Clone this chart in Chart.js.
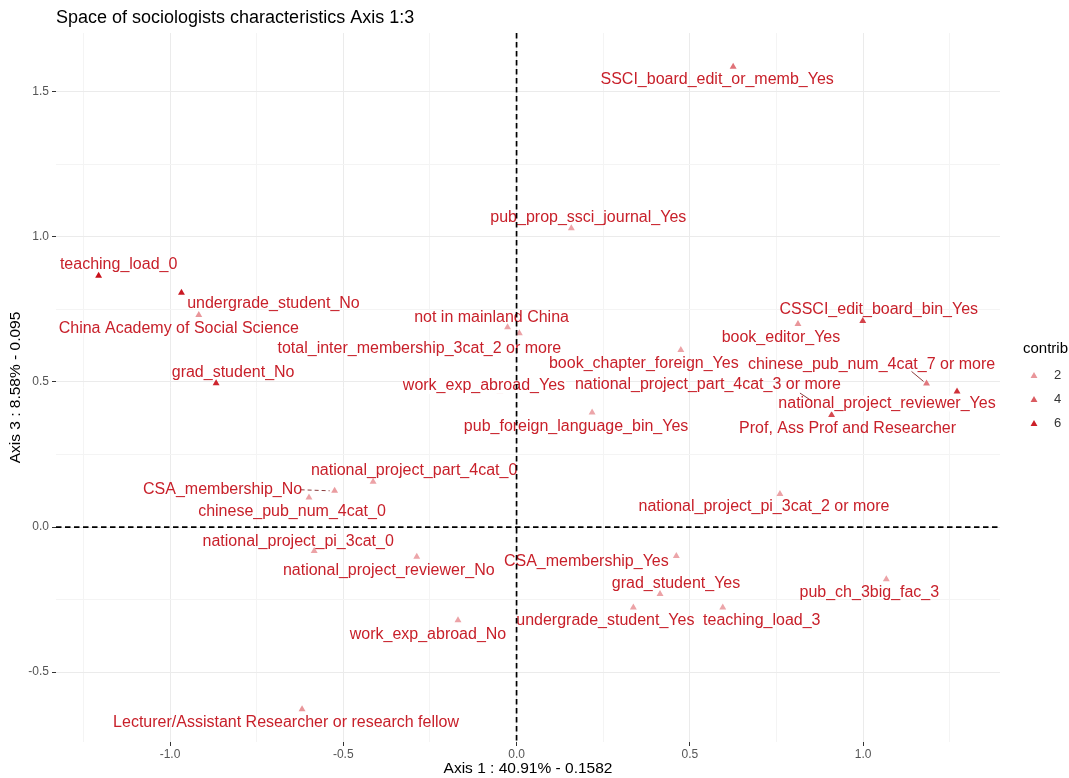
<!DOCTYPE html>
<html><head><meta charset="utf-8">
<script src="https://cdn.jsdelivr.net/npm/chart.js@4.4.1/dist/chart.umd.min.js"></script>
<style>html,body{margin:0;padding:0;background:#fff;}#wrap{width:1069px;height:778px;}</style>
</head><body><div id="wrap"><canvas id="c" width="1069" height="778"></canvas></div>
<script>
// ---- data ----
const chartTitle = 'Space of sociologists characteristics Axis 1:3';
const xAxisTitle = 'Axis 1 : 40.91% - 0.1582';
const yAxisTitle = 'Axis 3 : 8.58% - 0.095';
const categories = [
  'SSCI_board_edit_or_memb_Yes','pub_prop_ssci_journal_Yes','teaching_load_0','undergrade_student_No',
  'China Academy of Social Science','grad_student_No','not in mainland China','total_inter_membership_3cat_2 or more',
  'work_exp_abroad_Yes','pub_foreign_language_bin_Yes','book_chapter_foreign_Yes','national_project_part_4cat_3 or more',
  'book_editor_Yes','CSSCI_edit_board_bin_Yes','chinese_pub_num_4cat_7 or more','national_project_reviewer_Yes',
  'Prof, Ass Prof and Researcher','national_project_part_4cat_0','CSA_membership_No','chinese_pub_num_4cat_0',
  'national_project_pi_3cat_2 or more','national_project_pi_3cat_0','national_project_reviewer_No','CSA_membership_Yes',
  'grad_student_Yes','pub_ch_3big_fac_3','undergrade_student_Yes','teaching_load_3','work_exp_abroad_No',
  'Lecturer/Assistant Researcher or research fellow'
];
const axis1 = [0.625,0.158,-1.206,-0.967,-0.917,-0.867,-0.026,0.008,-0.048,0.218,0.474,0.861,
  0.812,0.999,1.183,1.271,0.909,-0.414,-0.525,-0.599,0.760,-0.584,-0.288,0.461,0.414,1.067,0.337,0.595,-0.169,-0.619];
const axis3 = [1.587,1.030,0.866,0.808,0.731,0.496,0.689,0.668,0.466,0.395,0.610,0.424,
  0.700,0.710,0.495,0.467,0.386,0.156,0.125,0.102,0.114,-0.083,-0.102,-0.100,-0.231,-0.180,-0.277,-0.277,-0.321,-0.628];
const contrib = [3.2,1.6,6.6,6.2,2.0,5.8,1.6,1.6,1.5,1.5,1.6,1.8,
  2.0,4.8,3.0,5.4,4.6,1.6,1.8,1.6,1.6,1.6,1.5,1.5,1.6,1.6,1.6,1.5,1.6,2.0];
const xMajorTicks = [-1, -0.5, 0, 0.5, 1];
const xTickLabels = ['-1.0','-0.5','0.0','0.5','1.0'];
const xMinorTicks = [-1.25,-0.75,-0.25,0.25,0.75,1.25];
const yMajorTicks = [-0.5, 0, 0.5, 1, 1.5];
const yTickLabels = ['-0.5','0.0','0.5','1.0','1.5'];
const yMinorTicks = [-0.25,0.25,0.75,1.25];
const legendTitle = 'contrib';
const legendValues = [2,4,6];

// ---- layout (label placement in pixels relative to point) ----
const labelOffsets = [
  [-16,13],[17,-11],[20,-11],[92,11],[-20,14],[17,-11],[-16,-10],[-100,15],
  [-16,-6],[-16,14],[-37,14],[-107,-19],[-17,14],[16,-11],[-55,-19],[-70,12],
  [16,14],[41,-11],[-112,-1],[-17,14],[-16,13],[-16,-10],[-28,14],[-90,6],
  [16,-10],[-17,13],[-28,13],[39,13],[-30,14],[-16,13]
];
// labels whose point sits underneath them (drawn with an opaque box, as in the reference)
const boxedLabels = [8, 15];
const connectors = [
  {i:11, from:[-15,-11], to:[-3,-3]},
  {i:14, from:[-15,-12], to:[-3,-2]},
  {i:18, from:[-34,-1], to:[-5,0], dash:[4,3]}
];

function contribColor(c){
  const t = Math.max(0, Math.min(1, (c-1)/5.5));
  const a=[240,180,183], b=[200,16,26];
  const m = a.map((v,k)=>Math.round(v+(b[k]-v)*t));
  return 'rgb('+m.join(',')+')';
}
function isMajor(v){ return Math.abs(v*2 - Math.round(v*2)) < 1e-6; }
const FONT = '"Liberation Sans", Arial, Helvetica, sans-serif';

function tri(ctx,x,y,r){
  ctx.beginPath();
  let rad = 0;
  ctx.moveTo(x+Math.sin(rad)*r, y-Math.cos(rad)*r);
  rad += 2*Math.PI/3; ctx.lineTo(x+Math.sin(rad)*r, y-Math.cos(rad)*r);
  rad += 2*Math.PI/3; ctx.lineTo(x+Math.sin(rad)*r, y-Math.cos(rad)*r);
  ctx.closePath(); ctx.fill();
}

const overlay = {
  id:'overlay',
  afterDatasetsDraw(chart){
    const {ctx, chartArea:a, scales:{x,y}} = chart;
    const meta = chart.getDatasetMeta(0);
    ctx.save();
    ctx.font = '16px '+FONT;
    // opaque boxes for labels that cover their point
    boxedLabels.forEach(i=>{
      const p = meta.data[i], o = labelOffsets[i];
      const w = ctx.measureText(categories[i]).width;
      ctx.fillStyle = '#fff';
      ctx.fillRect(p.x+o[0]-w/2-1, p.y+o[1]-8, w+2, 16);
    });
    connectors.forEach(cn=>{
      const p = meta.data[cn.i];
      ctx.beginPath(); ctx.setLineDash(cn.dash||[]);
      ctx.strokeStyle='#8a3c3c'; ctx.lineWidth=1;
      ctx.moveTo(p.x+cn.from[0], p.y+cn.from[1]); ctx.lineTo(p.x+cn.to[0], p.y+cn.to[1]); ctx.stroke();
    });
    ctx.setLineDash([]);
    ctx.fillStyle='#C8202A';
    ctx.textAlign='center'; ctx.textBaseline='middle';
    categories.forEach((t,i)=>{
      const p = meta.data[i], o = labelOffsets[i];
      ctx.fillText(t, p.x+o[0], p.y+o[1]);
    });
    const x0 = x.getPixelForValue(0), y0 = y.getPixelForValue(0);
    ctx.strokeStyle='#000'; ctx.lineWidth=1.7; ctx.setLineDash([5.5,3.5]);
    ctx.beginPath(); ctx.moveTo(x0,a.top); ctx.lineTo(x0,a.bottom); ctx.stroke();
    ctx.beginPath(); ctx.moveTo(a.left,y0); ctx.lineTo(a.right,y0); ctx.stroke();
    ctx.restore();
  },
  afterDraw(chart){
    const {ctx, chartArea:a} = chart;
    ctx.save();
    ctx.fillStyle='#000'; ctx.textBaseline='middle';
    ctx.font='18px '+FONT; ctx.textAlign='left';
    ctx.fillText(chartTitle, 56, 18);
    ctx.font='15.5px '+FONT; ctx.textAlign='center';
    ctx.fillText(xAxisTitle, (a.left+a.right)/2, 769);
    ctx.save(); ctx.translate(16, (a.top+a.bottom)/2); ctx.rotate(-Math.PI/2);
    ctx.fillText(yAxisTitle, 0, 0); ctx.restore();
    // legend
    ctx.textAlign='left';
    ctx.font='15px '+FONT; ctx.fillText(legendTitle, 1023, 349);
    ctx.font='13px '+FONT;
    legendValues.forEach((v,k)=>{
      const yy = 375 + k*24;
      ctx.fillStyle = contribColor(v); tri(ctx, 1034, yy+1, 4);
      ctx.fillStyle='#333'; ctx.fillText(String(v), 1054, yy);
    });
    ctx.restore();
  }
};

const xTicksAll = xMajorTicks.concat(xMinorTicks).sort((p,q)=>p-q);
const yTicksAll = yMajorTicks.concat(yMinorTicks).sort((p,q)=>p-q);

new Chart(document.getElementById('c'), {
  type:'scatter',
  data:{ datasets:[{
    data: axis1.map((v,i)=>({x:v, y:axis3[i]})),
    pointStyle:'triangle', pointRadius:4, pointHoverRadius:4,
    pointBorderWidth:0, borderWidth:0,
    backgroundColor: contrib.map(contribColor),
    pointBackgroundColor: contrib.map(contribColor)
  }]},
  options:{
    responsive:false, animation:false, devicePixelRatio:1,
    layout:{padding:{left:0, top:33, right:69, bottom:0}},
    plugins:{legend:{display:false}, tooltip:{enabled:false}, title:{display:false}},
    scales:{
      x:{ type:'linear', position:'bottom', min:-1.329, max:1.395,
        afterBuildTicks(s){ s.ticks = xTicksAll.map(v=>({value:v})); },
        afterFit(s){ s.height = 36; },
        border:{display:false},
        grid:{ color:c=>isMajor(c.tick.value)?'#EBEBEB':'#F4F4F4', lineWidth:1,
          tickLength:4, tickColor:c=>isMajor(c.tick.value)?'#333':'rgba(0,0,0,0)', tickWidth:1 },
        ticks:{ autoSkip:false, maxRotation:0, padding:1, color:'#555', font:{family:FONT, size:12},
          callback:v=>{ const k=xMajorTicks.findIndex(m=>Math.abs(m-v)<1e-6); return k>=0?xTickLabels[k]:''; } }
      },
      y:{ type:'linear', position:'left', min:-0.741, max:1.703,
        afterBuildTicks(s){ s.ticks = yTicksAll.map(v=>({value:v})); },
        afterFit(s){ s.width = 56; },
        border:{display:false},
        grid:{ color:c=>isMajor(c.tick.value)?'#EBEBEB':'#F4F4F4', lineWidth:1,
          tickLength:4, tickColor:c=>isMajor(c.tick.value)?'#333':'rgba(0,0,0,0)', tickWidth:1 },
        ticks:{ autoSkip:false, padding:3, color:'#555', font:{family:FONT, size:12},
          callback:v=>{ const k=yMajorTicks.findIndex(m=>Math.abs(m-v)<1e-6); return k>=0?yTickLabels[k]:''; } }
      }
    }
  },
  plugins:[overlay]
});
</script></body></html>
